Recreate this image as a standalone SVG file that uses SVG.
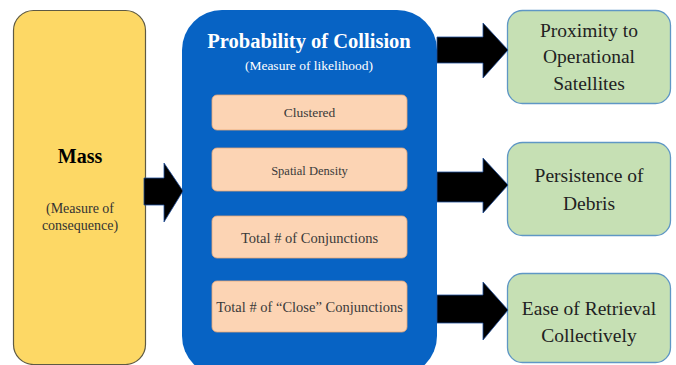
<svg xmlns="http://www.w3.org/2000/svg" width="676" height="365" viewBox="0 0 676 365">
<style>
.t{font-family:'Liberation Serif','Tinos','DejaVu Serif',serif;text-anchor:middle}
.mass{fill:#fdd865;stroke:#5e5a44;stroke-width:1.2}
.poc{fill:#0763c4}
.fac{fill:#fcd4b4;stroke:#e7a777;stroke-width:0.8}
.out{fill:#c6e0b4;stroke:#5f97c5;stroke-width:1.3}
.arr{fill:#000;stroke:#1f4e9a;stroke-width:0.8;stroke-linejoin:miter}
</style>
<rect width="676" height="365" fill="#fff"/>
<g id="mass">
<rect class="mass" x="13.5" y="10.5" width="132" height="354" rx="20"/>
<text class="t" x="80" y="163" font-size="20" font-weight="bold" fill="#000">Mass</text>
<text class="t" x="80" y="213" font-size="14" fill="#333">(Measure of</text>
<text class="t" x="80" y="230" font-size="14" fill="#333">consequence)</text>
</g>
<g id="poc">
<rect class="poc" x="182" y="10" width="255" height="366" rx="40"/>
<text class="t" x="309" y="48" font-size="20.5" font-weight="bold" fill="#fff">Probability of Collision</text>
<text class="t" x="309" y="70" font-size="13.5" fill="#fff">(Measure of likelihood)</text>
</g>
<g id="clustered">
<rect class="fac" x="212" y="95" width="195" height="35" rx="5"/>
<text class="t" x="309.5" y="117" font-size="13.5" fill="#3a3a3a">Clustered</text>
</g>
<g id="spatial">
<rect class="fac" x="212" y="148" width="195" height="43" rx="5"/>
<text class="t" x="309.5" y="175" font-size="12.5" fill="#3a3a3a">Spatial Density</text>
</g>
<g id="conj">
<rect class="fac" x="212" y="216" width="195" height="42" rx="5"/>
<text class="t" x="309.5" y="243" font-size="14.5" fill="#3a3a3a">Total # of Conjunctions</text>
</g>
<g id="close">
<rect class="fac" x="212" y="281" width="195" height="51" rx="5"/>
<text class="t" x="309.5" y="312" font-size="14.5" fill="#3a3a3a">Total # of “Close” Conjunctions</text>
</g>
<g id="proximity">
<rect class="out" x="507.5" y="10.5" width="163" height="93" rx="15"/>
<text class="t" x="589" y="37" font-size="19.5" fill="#222">Proximity to</text>
<text class="t" x="589" y="63" font-size="19.5" fill="#222">Operational</text>
<text class="t" x="589" y="90" font-size="19.5" fill="#222">Satellites</text>
</g>
<g id="persistence">
<rect class="out" x="507.5" y="142.5" width="163" height="93" rx="15"/>
<text class="t" x="589" y="182" font-size="19.5" fill="#222">Persistence of</text>
<text class="t" x="589" y="210" font-size="19.5" fill="#222">Debris</text>
</g>
<g id="retrieval">
<rect class="out" x="507.5" y="273.5" width="163" height="89" rx="15"/>
<text class="t" x="589" y="315" font-size="19.5" fill="#222">Ease of Retrieval</text>
<text class="t" x="589" y="342" font-size="19.5" fill="#222">Collectively</text>
</g>
<g id="connectors">
<polygon class="arr" points="144,178 164,178 164,163 183,191 164,222 164,205 144,205"/>
<polygon class="arr" points="437,37 483,37 483,23 508,50 483,78 483,63 437,63"/>
<polygon class="arr" points="437,172 483,172 483,158 508,185 483,213 483,202 437,202"/>
<polygon class="arr" points="437,295 483,295 483,282 508,310 483,340 483,323 437,323"/>
</g>
</svg>
